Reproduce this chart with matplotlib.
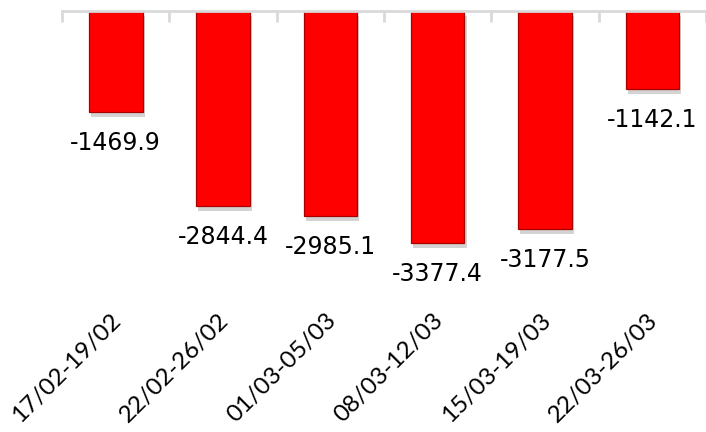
import matplotlib
matplotlib.use("Agg")
import matplotlib.pyplot as plt
import matplotlib.patheffects as pe
from matplotlib import transforms

periods = ["17/02-19/02", "22/02-26/02", "01/03-05/03", "08/03-12/03", "15/03-19/03", "22/03-26/03"]
values = [-1469.9, -2844.4, -2985.1, -3377.4, -3177.5, -1142.1]

fig = plt.figure(figsize=(7.06, 4.32), dpi=100)
ax = fig.add_axes([62 / 706, 0, 1 - 62 / 706, 1 - 11 / 432])

x = range(len(values))
bars = ax.bar(x, values, width=0.5, color="#ff0000", edgecolor="#a80000", linewidth=0.9)
for b in bars:
    b.set_path_effects([pe.SimplePatchShadow(offset=(1.5, -3.5), shadow_rgbFace="#6f6f6f", alpha=0.3),
                        pe.Normal()])

ax.set_xlim(-0.5, 5.463)
ax.set_ylim(-6130, 0)

# axis line at zero sits on top, ticks between categories
for s in ["left", "right", "bottom"]:
    ax.spines[s].set_visible(False)
ax.spines["top"].set_color("#d9d9d9")
ax.spines["top"].set_linewidth(2)
ax.xaxis.set_ticks_position("top")
ax.set_xticks([i - 0.5 for i in range(len(values) + 1)])
ax.set_xticklabels([])
ax.tick_params(axis="x", direction="in", length=8, width=2, color="#d9d9d9")
ax.set_yticks([])

# value labels under each bar
for i, v in enumerate(values):
    ax.annotate(f"{v:.1f}", (i, v), xytext=(0, -31), textcoords="offset pixels",
                ha="center", va="center", fontsize=17, family="DejaVu Sans", color="black")

# category labels along the bottom edge
trans = transforms.blended_transform_factory(ax.transData, fig.transFigure)
for i, p in enumerate(periods):
    ax.text(i + 0.02, 115 / 432, p, transform=trans, rotation=45, rotation_mode="anchor",
            ha="right", va="center", fontsize=17.5, family="Lato", color="black")

fig.savefig("out.png", dpi=100)
